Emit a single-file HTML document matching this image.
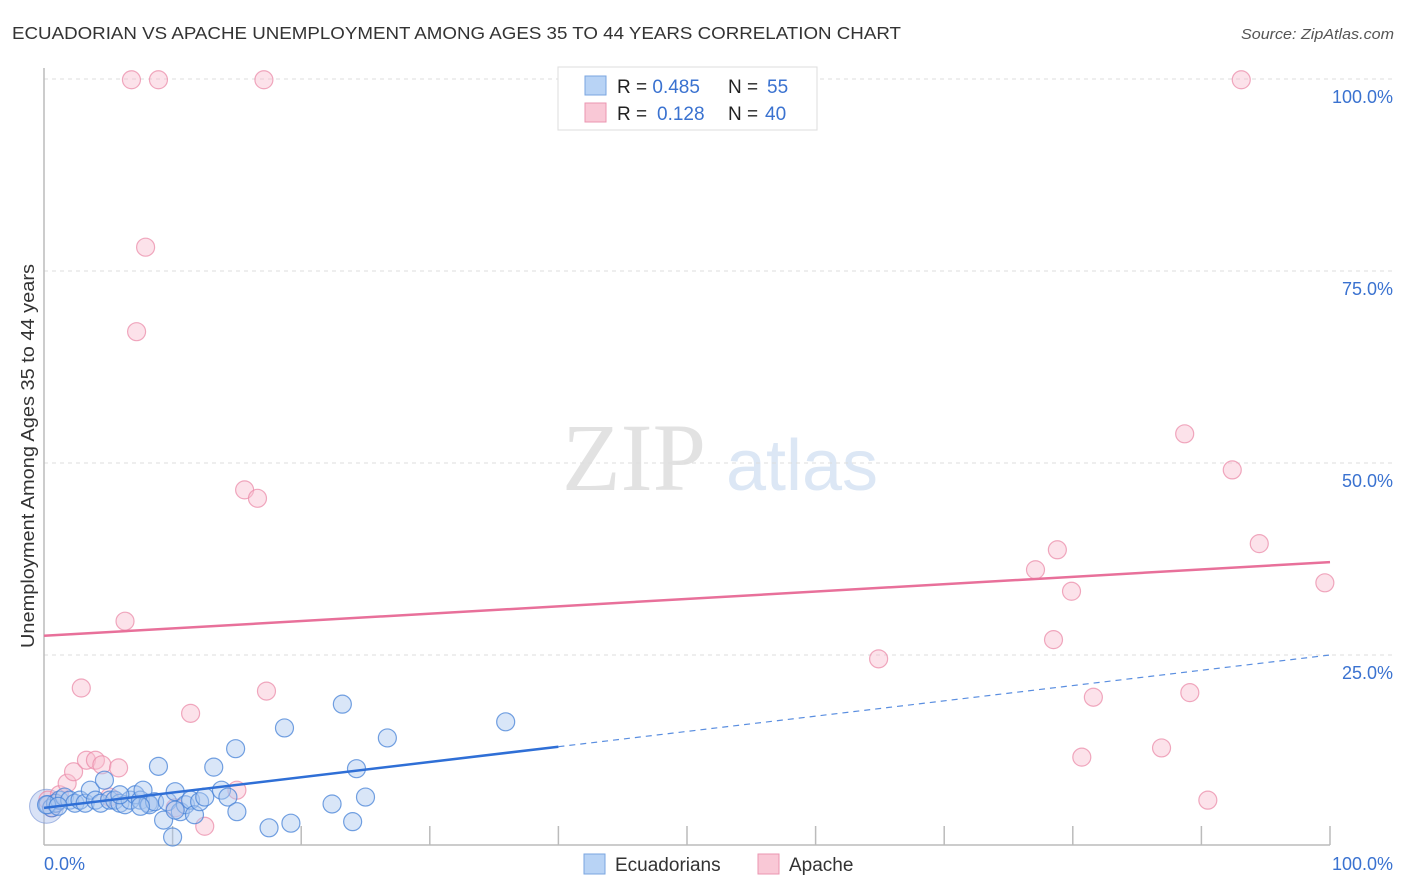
<!DOCTYPE html>
<html><head><meta charset="utf-8"><style>
body{margin:0;background:#fff;font-family:"Liberation Sans",sans-serif;}
#wrap{position:relative;width:1406px;height:892px;overflow:hidden}
</style></head><body>
<div id="wrap">
<svg id="chart" width="1406" height="892" xmlns="http://www.w3.org/2000/svg">
<text x="12" y="39" font-size="17.5" fill="#333" textLength="889" lengthAdjust="spacingAndGlyphs">ECUADORIAN VS APACHE UNEMPLOYMENT AMONG AGES 35 TO 44 YEARS CORRELATION CHART</text>
<text x="1394" y="39" font-size="15" fill="#555" font-style="italic" text-anchor="end" textLength="153" lengthAdjust="spacingAndGlyphs">Source: ZipAtlas.com</text>
<text x="634" y="490" font-size="96" fill="#e2e2e2" font-family="Liberation Serif,serif" text-anchor="middle">ZIP</text>
<text x="802" y="490" font-size="72" fill="#dce7f5" text-anchor="middle">atlas</text>
<text transform="translate(34,456) rotate(-90)" font-size="18" fill="#333" text-anchor="middle" textLength="384" lengthAdjust="spacingAndGlyphs">Unemployment Among Ages 35 to 44 years</text>
<g id="grid"></g><g id="axes"></g><g id="marks"></g>
<g>
<rect x="558" y="67" width="259" height="63" fill="#fff" stroke="#ddd"/>
<rect x="585" y="76" width="21" height="19" fill="#b8d3f5" stroke="#7aa6e0"/>
<rect x="585" y="103" width="21" height="19" fill="#f9c8d6" stroke="#eb96b0"/>
<text x="617" y="93" font-size="19" fill="#222">R = <tspan fill="#3a72d0">0.485</tspan><tspan x="728">N = </tspan><tspan fill="#3a72d0" x="767">55</tspan></text>
<text x="617" y="120" font-size="19" fill="#222">R = <tspan fill="#3a72d0" x="657">0.128</tspan><tspan x="728">N = </tspan><tspan fill="#3a72d0" x="765">40</tspan></text>
</g>
<g>
<rect x="584" y="854" width="21" height="20" fill="#b8d3f5" stroke="#7aa6e0"/>
<text x="615" y="871" font-size="19" fill="#333">Ecuadorians</text>
<rect x="758" y="854" width="21" height="20" fill="#f9c8d6" stroke="#eb96b0"/>
<text x="789" y="871" font-size="19" fill="#333">Apache</text>
</g>
</svg>
</div>
<script>
const blueX=[0.3,0.6,0.9,1.2,1.6,2.0,2.4,2.8,3.2,3.6,4.0,4.4,4.7,5.1,5.5,5.9,6.3,6.7,7.1,7.5,7.7,8.1,8.2,8.6,8.9,9.3,9.6,10.0,10.2,10.6,11.0,11.4,11.7,12.1,12.5,13.2,13.8,14.3,14.9,15.0,17.5,18.7,19.2,22.4,23.2,24.0,24.3,25.0,26.7,35.9,0.2,1.1,7.5,10.2,5.9];
const blueY=[5.5,5.1,5.7,6.1,6.5,6.1,5.7,6.1,5.7,7.4,6.1,5.7,8.7,6.1,6.1,5.7,5.5,6.1,6.8,6.1,7.4,5.7,5.5,5.9,10.5,3.5,5.9,1.3,7.2,4.6,5.5,6.1,4.2,5.9,6.5,10.4,7.4,6.5,12.8,4.6,2.5,15.5,3.1,5.6,18.6,3.3,10.2,6.5,14.2,16.3,5.5,5.3,5.3,4.8,6.8];
const pinkX=[0.3,0.6,1.2,1.8,2.3,2.9,3.3,4.0,4.5,5.1,5.8,6.3,6.8,7.9,7.2,8.9,10.2,11.4,12.5,15.0,15.6,16.6,17.1,17.3,64.9,77.1,78.5,78.8,79.9,80.7,81.6,86.9,88.7,89.1,90.5,92.4,93.1,94.5,99.6,0.9];
const pinkY=[6.1,5.1,6.8,8.3,9.8,20.7,11.3,11.3,10.7,6.5,10.3,29.4,99.9,78.1,67.1,99.9,5.1,17.4,2.7,7.4,46.5,45.4,99.9,20.3,24.5,36.1,27.0,38.7,33.3,11.7,19.5,12.9,53.8,20.1,6.1,49.1,99.9,39.5,34.4,5.7];
const yTicks=[25,50,75,100];
const yTickLabels=["25.0%","50.0%","75.0%","100.0%"];
const xTicks=[10,20,30,40,50,60,70,80,90,100];
const blueTrend=[5.1,25.0];
const pinkTrend=[27.5,37.1];
const blueSolidEnd=40;

const NS="http://www.w3.org/2000/svg";
const sx=v=>44+v*12.86, sy=v=>847-v*7.68;
function mk(tag,attrs,parent){const e=document.createElementNS(NS,tag);for(const k in attrs)e.setAttribute(k,attrs[k]);parent.appendChild(e);return e;}
const grid=document.getElementById('grid'),axes=document.getElementById('axes'),marks=document.getElementById('marks');
yTicks.forEach((t,i)=>{
  const l=mk('line',{x1:44,x2:1394,y1:sy(t),y2:sy(t),stroke:'#ddd','stroke-dasharray':'4,4'},grid);
  
  
  const tx=mk('text',{x:1393,y:sy(t)+24,'font-size':18,fill:'#3a72d0','text-anchor':'end'},axes);
  tx.textContent=yTickLabels[i];
  
  
});
const ya=mk('line',{x1:44,x2:44,y1:68,y2:845,stroke:'#bbb','stroke-width':1.5},axes);


const xa=mk('line',{x1:44,x2:1330,y1:845,y2:845,stroke:'#bbb','stroke-width':1.5},axes);


xTicks.forEach(t=>{
  const l=mk('line',{x1:sx(t),x2:sx(t),y1:826,y2:845,stroke:'#bbb','stroke-width':1.5},axes);
  
  
});
const xl0=mk('text',{x:44,y:870,'font-size':18,fill:'#3a72d0'},axes);xl0.textContent='0.0%';


const xl1=mk('text',{x:1393,y:870,'font-size':18,fill:'#3a72d0','text-anchor':'end'},axes);xl1.textContent='100.0%';



const b1=mk('circle',{cx:sx(0.2),cy:sy(5.3),r:17,fill:'rgba(170,190,235,0.45)',stroke:'rgba(110,140,210,0.6)'},marks);


pinkX.forEach((v,i)=>{
  const c=mk('circle',{cx:sx(v),cy:sy(pinkY[i]),r:9,fill:'rgba(248,190,208,0.45)',stroke:'rgba(235,140,170,0.75)','stroke-width':1.2},marks);
  
  
});
blueX.forEach((v,i)=>{
  const c=mk('circle',{cx:sx(v),cy:sy(blueY[i]),r:9,fill:'rgba(170,200,240,0.45)',stroke:'rgba(70,130,215,0.75)','stroke-width':1.2},marks);
  
  
});
const bAt=x=>blueTrend[0]+(blueTrend[1]-blueTrend[0])*x/100;
const pt=mk('line',{x1:sx(0),y1:sy(pinkTrend[0]),x2:sx(100),y2:sy(pinkTrend[1]),stroke:'#e8709a','stroke-width':2.5},marks);


const bt=mk('line',{x1:sx(0),y1:sy(bAt(0)),x2:sx(blueSolidEnd),y2:sy(bAt(blueSolidEnd)),stroke:'#2f6fd6','stroke-width':2.5},marks);


const bd=mk('line',{x1:sx(blueSolidEnd),y1:sy(bAt(blueSolidEnd)),x2:sx(100),y2:sy(bAt(100)),stroke:'#5a8ee0','stroke-width':1.2,'stroke-dasharray':'6,5'},marks);


</script>
</body></html>
